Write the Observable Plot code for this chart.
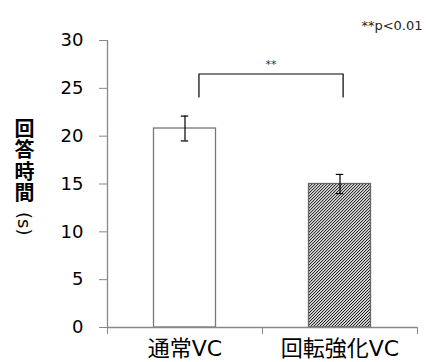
<!DOCTYPE html>
<html>
<head>
<meta charset="utf-8">
<script src="https://cdn.jsdelivr.net/npm/d3@7"></script>
<script src="https://cdn.jsdelivr.net/npm/@observablehq/plot@0.6"></script>
<style>
  body { margin: 0; background: white; }
  #wrap { position: relative; width: 432px; height: 362px; background: white; }
  #ylab {
    position: absolute; left: 11px; top: 118px;
    writing-mode: vertical-rl;
    font-family: "Noto Sans CJK JP", sans-serif;
    font-size: 20px; font-weight: bold; line-height: 26px; letter-spacing: 1.5px; color: #000;
  }
  #ylab .u {
    font-family: "DejaVu Sans", sans-serif; font-weight: normal; font-size: 18px; letter-spacing: 0;
    padding-inline-start: 8px;
  }
</style>
</head>
<body>
<div id="wrap"><div id="ylab">回答時間<span class="u">(s)</span></div></div>
<script>
const categories = ["通常VC", "回転強化VC"];
const means = [20.8, 15.0];
const errors = [1.3, 1.0];
const yTicks = [0, 5, 10, 15, 20, 25, 30];
const bracketGroups = [0.09, 1.02];
const bracketHeights = [24.1, 26.5];
const sigMark = "**";
const note = "**p<0.01";

const data = categories.map((c, i) => ({i, cat: c, mean: means[i], err: errors[i]}));
const caps = data.flatMap(d => [{i: d.i, y: d.mean - d.err}, {i: d.i, y: d.mean + d.err}]);
const bracket = [
  {x: bracketGroups[0], y: bracketHeights[0]},
  {x: bracketGroups[0], y: bracketHeights[1]},
  {x: bracketGroups[1], y: bracketHeights[1]},
  {x: bracketGroups[1], y: bracketHeights[0]}
];

const defs = () => {
  const s = d3.create("svg:defs");
  const w = 2.12;
  const p = s.append("pattern").attr("id", "hatch").attr("patternUnits", "userSpaceOnUse")
    .attr("width", w).attr("height", w).attr("patternTransform", "rotate(45)");
  p.append("rect").attr("width", w).attr("height", w).attr("fill", "white");
  p.append("line").attr("x1", w / 2).attr("y1", 0).attr("x2", w / 2).attr("y2", w)
    .attr("stroke", "#111").attr("stroke-width", 0.95);
  return s.node();
};

const chart = Plot.plot({
  width: 432, height: 362,
  marginLeft: 107, marginRight: 15, marginTop: 40, marginBottom: 35,
  style: {fontFamily: "'DejaVu Sans','Noto Sans CJK JP',sans-serif", background: "white", color: "black"},
  x: {type: "linear", domain: [-0.5, 1.5]},
  y: {domain: [0, 30]},
  marks: [
    defs,
    Plot.rectY(data.filter(d => d.i === 0), {x1: d => d.i - 0.2, x2: d => d.i + 0.2, y1: 0, y2: "mean", fill: "white", stroke: "#777", strokeWidth: 1.3}),
    Plot.rectY(data.filter(d => d.i === 1), {x1: d => d.i - 0.2, x2: d => d.i + 0.2, y1: 0, y2: "mean", fill: "url(#hatch)", stroke: "#666", strokeWidth: 1.3}),
    Plot.ruleX(data, {x: "i", y1: d => d.mean - d.err, y2: d => d.mean + d.err, stroke: "black", strokeWidth: 1.2}),
    Plot.ruleY(caps, {y: "y", x1: d => d.i - 0.024, x2: d => d.i + 0.024, stroke: "black", strokeWidth: 1.2}),
    Plot.ruleX([-0.5], {y1: 0, y2: 30, stroke: "#888", strokeWidth: 1.3}),
    Plot.ruleY([0], {stroke: "#888", strokeWidth: 1.3}),
    Plot.axisY({ticks: yTicks, tickSize: 8, tickPadding: 16, fontSize: 18, stroke: "#888", fill: "black", label: null}),
    Plot.axisX({ticks: [-0.5, 0.5, 1.5], tickSize: 7, tickFormat: () => "", stroke: "#888", label: null}),
    Plot.axisX({ticks: [0, 1], tickSize: 0, tickPadding: 13, tickFormat: i => categories[i], fontSize: 22, fill: "black", label: null}),
    Plot.line(bracket, {x: "x", y: "y", stroke: "black", strokeWidth: 1.2}),
    Plot.text([sigMark], {x: (bracketGroups[0] + bracketGroups[1]) / 2, y: bracketHeights[1], dy: -10, fontSize: 11, fill: "#333"}),
    Plot.text([note], {frameAnchor: "top-right", dx: 5, dy: -20, fontSize: 13, textAnchor: "end", fill: "#222"})
  ]
});
document.getElementById("wrap").prepend(chart);
</script>
</body>
</html>
